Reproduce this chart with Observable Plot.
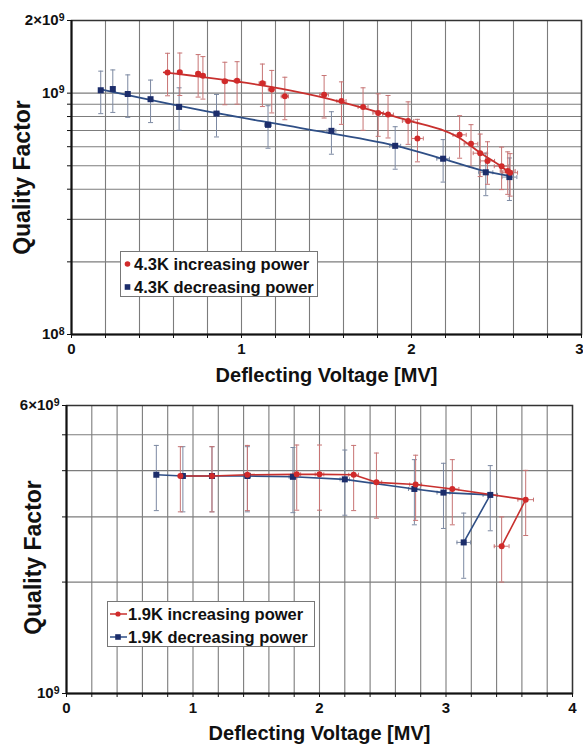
<!DOCTYPE html>
<html>
<head>
<meta charset="utf-8">
<script src="https://cdn.jsdelivr.net/npm/d3@7"></script>
<script src="https://cdn.jsdelivr.net/npm/@observablehq/plot@0.6"></script>
<style>
  html, body { margin: 0; padding: 0; background: #fff; }
  #wrap { position: relative; width: 583px; height: 744px; font-family: "Liberation Sans", Arial, sans-serif; }
  #wrap > svg { display: block; }
  .legend { position: absolute; background: #fff; border: 1px solid #777; box-sizing: border-box;
            font-weight: bold; font-size: 16.5px; color: #111; }
  .legend .row { position: absolute; left: 0; height: 20px; line-height: 20px; white-space: nowrap; display: flex; align-items: center; }
  .legend .row svg { display: inline-block; flex: none; }
</style>
</head>
<body>
<div id="wrap"></div>
<script>
// ---------------- data ----------------
// Top panel: 4.3 K
const red43V = [0.565, 0.637, 0.745, 0.773, 0.902, 0.974, 1.123, 1.178, 1.255, 1.486, 1.588, 1.715, 1.804, 1.862, 1.980, 2.035, 2.283, 2.350, 2.404, 2.447, 2.530, 2.566, 2.580];
const red43Q = [1.219, 1.222, 1.204, 1.181, 1.119, 1.125, 1.100, 1.035, 0.970, 0.986, 0.928, 0.877, 0.828, 0.815, 0.767, 0.649, 0.672, 0.617, 0.564, 0.524, 0.498, 0.476, 0.468];
const blue43V = [0.172, 0.243, 0.331, 0.465, 0.633, 0.853, 1.156, 1.529, 1.904, 2.186, 2.437, 2.576];
const blue43Q = [1.028, 1.040, 0.992, 0.944, 0.877, 0.823, 0.739, 0.698, 0.605, 0.535, 0.470, 0.449];
// trend curves drawn through the 4.3 K data
const red43TrendV = [0.543, 1.231, 1.525, 1.802, 1.980, 2.283, 2.404, 2.527, 2.580];
const red43TrendQ = [1.219, 1.044, 0.943, 0.836, 0.772, 0.652, 0.566, 0.497, 0.466];
const blue43TrendV = [0.172, 0.760, 1.349, 1.904, 2.186, 2.437, 2.576];
const blue43TrendQ = [1.036, 0.850, 0.716, 0.606, 0.534, 0.474, 0.454];

// Bottom panel: 1.9 K (in measurement order)
const red19V = [0.90, 1.15, 1.43, 1.82, 2.00, 2.27, 2.45, 2.76, 3.05, 3.63, 3.44];
const red19Q = [3.87, 3.87, 3.90, 3.91, 3.91, 3.90, 3.72, 3.67, 3.57, 3.34, 2.50];
const blue19V = [3.14, 3.35, 2.98, 2.75, 2.20, 1.79, 1.43, 1.15, 0.92, 0.71];
const blue19Q = [2.56, 3.44, 3.49, 3.57, 3.79, 3.85, 3.87, 3.87, 3.87, 3.90];

const qErrFrac = 0.20;   // vertical bars: +/-20 %
const vErrFrac = 0.017;  // horizontal bars: +/-1.7 %

// axes
const xTicksTop = [0, 0.2, 0.4, 0.6, 0.8, 1, 1.2, 1.4, 1.6, 1.8, 2, 2.2, 2.4, 2.6, 2.8, 3];
const xTicksBot = [0, 0.2, 0.4, 0.6, 0.8, 1, 1.2, 1.4, 1.6, 1.8, 2, 2.2, 2.4, 2.6, 2.8, 3, 3.2, 3.4, 3.6, 3.8, 4];
const xLabelVals = [0, 1, 2, 3, 4];
const xLabelText = ["0", "1", "2", "3", "4"];
const yTicksTop = [1e8, 2e8, 3e8, 4e8, 5e8, 6e8, 7e8, 8e8, 9e8, 1e9, 2e9];
const yLabelTopVals = [1e8, 1e9, 2e9];
const yLabelTopText = ["10⁸", "10⁹", "2×10⁹"];
const yTicksBot = [1e9, 2e9, 3e9, 4e9, 5e9, 6e9];
const yLabelBotVals = [1e9, 6e9];
const yLabelBotText = ["10⁹", "6×10⁹"];

const xTitle = "Deflecting Voltage [MV]";
const yTitle = "Quality Factor";
const legendTop = ["4.3K increasing power", "4.3K decreasing power"];
const legendBot = ["1.9K increasing power", "1.9K decreasing power"];

// ---------------- styling ----------------
const RED = "#d12a2a", NAVY = "#1c2d6b";
const RED_LINE = "#c8302e", BLUE_LINE = "#2f4f86";
const RED_ERR = "#c77474", BLUE_ERR = "#7c89a2";
const GRID = "#7c7c7c";
const FONT = "'Liberation Sans', Arial, sans-serif";

const rows = (V, Q) => V.map((x, i) => ({x, q: Q[i] * 1e9}));
const hcap = {draw(ctx, size) { const w = Math.sqrt(size / Math.PI); ctx.moveTo(-w, 0); ctx.lineTo(w, 0); }};
const vcap = {draw(ctx, size) { const w = Math.sqrt(size / Math.PI); ctx.moveTo(0, -w); ctx.lineTo(0, w); }};

function errorBars(data, color) {
  return [
    Plot.ruleX(data, {x: "x", y1: d => d.q * (1 - qErrFrac), y2: d => d.q * (1 + qErrFrac), stroke: color, strokeWidth: 1}),
    Plot.ruleY(data, {y: "q", x1: d => d.x * (1 - vErrFrac), x2: d => d.x * (1 + vErrFrac), stroke: color, strokeWidth: 1}),
    Plot.dot(data, {x: "x", y: d => d.q * (1 + qErrFrac), symbol: hcap, r: 2.5, stroke: color, fill: "none", strokeWidth: 1}),
    Plot.dot(data, {x: "x", y: d => d.q * (1 - qErrFrac), symbol: hcap, r: 2.5, stroke: color, fill: "none", strokeWidth: 1}),
    Plot.dot(data, {x: d => d.x * (1 - vErrFrac), y: "q", symbol: vcap, r: 2, stroke: color, fill: "none", strokeWidth: 1}),
    Plot.dot(data, {x: d => d.x * (1 + vErrFrac), y: "q", symbol: vcap, r: 2, stroke: color, fill: "none", strokeWidth: 1})
  ];
}

function panel({height, marginTop, marginBottom, marginLeft, marginRight, xDomain, yDomain, xTicks, yTicks,
                yLabVals, yLabText, yTitleDx, yTitleDy, xTitleDy, marks}) {
  const xMap = new Map(xLabelVals.map((v, i) => [v, xLabelText[i]]));
  const yMap = new Map(yLabVals.map((v, i) => [v, yLabText[i]]));
  return Plot.plot({
    width: 583, height, marginTop, marginBottom, marginLeft, marginRight,
    style: {fontFamily: FONT, fontWeight: "bold", fontSize: "15px", color: "#111", background: "#fff", overflow: "visible"},
    x: {domain: xDomain},
    y: {type: "log", domain: yDomain},
    marks: [
      Plot.ruleX(xTicks, {stroke: GRID, strokeWidth: 1.1}),
      Plot.ruleY(yTicks, {stroke: GRID, strokeWidth: 1.1}),
      ...marks,
      Plot.frame({stroke: "#333", strokeWidth: 1.5}),
      Plot.ruleX([xDomain[0]], {stroke: "#111", strokeWidth: 2}),
      Plot.ruleY([yDomain[0]], {stroke: "#111", strokeWidth: 2}),
      Plot.axisX({ticks: xTicks, tickFormat: d => xMap.get(d) ?? "", tickSize: 4, tickPadding: 5,
                  fontSize: 15, fontWeight: "bold", label: null, stroke: "#111"}),
      Plot.axisY({ticks: yTicks, tickFormat: d => yMap.get(d) ?? "", tickSize: 4, tickPadding: 3,
                  fontSize: 15, fontWeight: "bold", label: null, stroke: "#111"}),
      Plot.text([xTitle], {text: d => d, frameAnchor: "bottom", dy: xTitleDy, fontSize: 20, fontWeight: "bold", lineAnchor: "middle", fill: "#111"}),
      Plot.text([yTitle], {text: d => d, frameAnchor: "left", dx: yTitleDx, dy: yTitleDy, rotate: -90, textAnchor: "middle",
                           fontSize: 23, fontWeight: "bold", lineAnchor: "middle", fill: "#111"})
    ]
  });
}

// turn the unicode superscript digits of the tick labels into raised tspans
const SUP = {"⁰": "0", "¹": "1", "²": "2", "³": "3", "⁴": "4", "⁵": "5", "⁶": "6", "⁷": "7", "⁸": "8", "⁹": "9"};
function raiseSuperscripts(svg) {
  const ns = "http://www.w3.org/2000/svg";
  svg.querySelectorAll("text").forEach(t => {
    const m = t.textContent.match(/^(.*?)([⁰¹²³⁴⁵⁶⁷⁸⁹]+)$/);
    if (!m) return;
    t.textContent = "";
    const base = document.createElementNS(ns, "tspan");
    base.textContent = m[1];
    const sup = document.createElementNS(ns, "tspan");
    sup.textContent = [...m[2]].map(c => SUP[c]).join("");
    sup.setAttribute("dy", "-0.45em");
    sup.setAttribute("font-size", "70%");
    t.append(base, sup);
  });
}

const red43 = rows(red43V, red43Q), blue43 = rows(blue43V, blue43Q);
const red43T = rows(red43TrendV, red43TrendQ), blue43T = rows(blue43TrendV, blue43TrendQ);
const red19 = rows(red19V, red19Q), blue19 = rows(blue19V, blue19Q);

const topChart = panel({
  height: 390, marginTop: 20, marginBottom: 56, marginLeft: 71, marginRight: 2,
  xDomain: [0, 3], yDomain: [1e8, 2e9], xTicks: xTicksTop, yTicks: yTicksTop,
  yLabVals: yLabelTopVals, yLabText: yLabelTopText, yTitleDx: -49, yTitleDy: 0, xTitleDy: 41,
  marks: [
    ...errorBars(blue43, BLUE_ERR),
    ...errorBars(red43, RED_ERR),
    Plot.line(blue43T, {x: "x", y: "q", stroke: BLUE_LINE, strokeWidth: 1.8, curve: "monotone-x"}),
    Plot.line(red43T, {x: "x", y: "q", stroke: RED_LINE, strokeWidth: 1.8, curve: "monotone-x"}),
    Plot.dot(blue43, {x: "x", y: "q", symbol: "square", r: 3.4, fill: NAVY}),
    Plot.dot(red43, {x: "x", y: "q", symbol: "circle", r: 3, fill: RED})
  ]
});

const botChart = panel({
  height: 354, marginTop: 15, marginBottom: 51, marginLeft: 66, marginRight: 11,
  xDomain: [0, 4], yDomain: [1e9, 6e9], xTicks: xTicksBot, yTicks: yTicksBot,
  yLabVals: yLabelBotVals, yLabText: yLabelBotText, yTitleDx: -33, yTitleDy: 8, xTitleDy: 40,
  marks: [
    ...errorBars(blue19, BLUE_ERR),
    ...errorBars(red19, RED_ERR),
    Plot.line(blue19, {x: "x", y: "q", stroke: BLUE_LINE, strokeWidth: 1.6}),
    Plot.line(red19, {x: "x", y: "q", stroke: RED_LINE, strokeWidth: 1.6}),
    Plot.dot(blue19, {x: "x", y: "q", symbol: "square", r: 3.4, fill: NAVY}),
    Plot.dot(red19, {x: "x", y: "q", symbol: "circle", r: 3, fill: RED})
  ]
});

raiseSuperscripts(topChart);
raiseSuperscripts(botChart);
// keep the last x label of the top panel inside the window
topChart.querySelectorAll("text").forEach(t => { if (t.textContent === "3") t.setAttribute("dx", "-2"); });

const wrap = document.getElementById("wrap");
wrap.appendChild(topChart);
wrap.appendChild(botChart);

function legend(left, topPx, w, h, labels, withLine) {
  const box = document.createElement("div");
  box.className = "legend";
  Object.assign(box.style, {left: left + "px", top: topPx + "px", width: w + "px", height: h + "px"});
  labels.forEach((lab, i) => {
    const row = document.createElement("div");
    row.className = "row";
    row.style.top = (i === 0 ? 2 : 25) + "px";
    const color = i === 0 ? RED : NAVY;
    const lineColor = i === 0 ? RED_LINE : BLUE_LINE;
    const mw = withLine ? 20 : 13;
    const marker = i === 0
      ? `<circle cx="${mw / 2}" cy="10" r="${withLine ? 2.6 : 2.8}" fill="${color}"/>`
      : `<rect x="${mw / 2 - 2.8}" y="7.2" width="5.6" height="5.6" fill="${color}"/>`;
    const line = withLine ? `<line x1="2" x2="${mw - 1}" y1="10" y2="10" stroke="${lineColor}" stroke-width="1.5"/>` : "";
    row.innerHTML = `<svg width="${mw}" height="20">${line}${marker}</svg><span>${lab}</span>`;
    box.appendChild(row);
  });
  wrap.appendChild(box);
}
legend(120, 251, 198, 46, legendTop, false);
legend(107, 601, 208, 46, legendBot, true);
</script>
</body>
</html>
